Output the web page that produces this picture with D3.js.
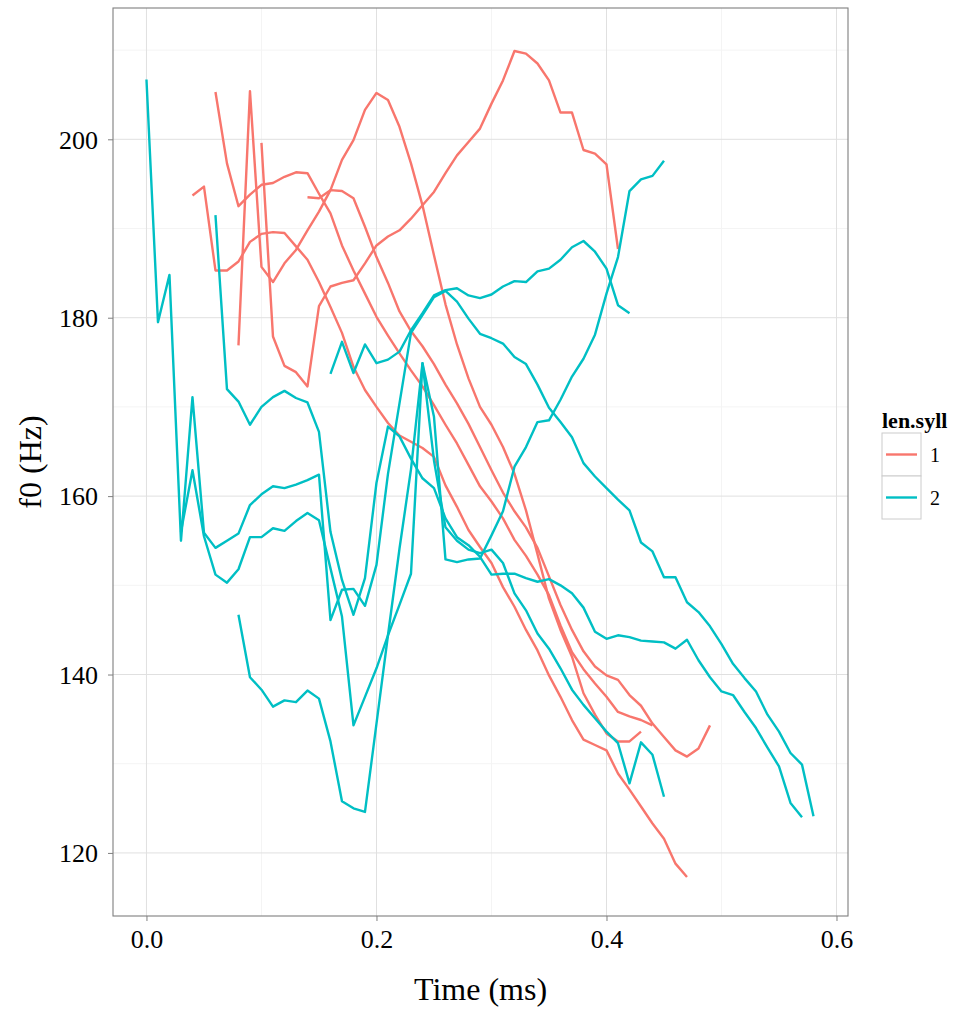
<!DOCTYPE html>
<html>
<head>
<meta charset="utf-8">
<script src="https://cdn.jsdelivr.net/npm/d3@7"></script>
<style>
  body { margin: 0; background: #fff; }
  svg { display: block; font-family: "Liberation Serif", "DejaVu Serif", serif; }
</style>
</head>
<body>
<div id="chart"></div>
<script>
const WIDTH = 955;
const HEIGHT = 1009;
const STEP = 0.01; // sampling step of the contours (s)

// len.syll categories
const syllables = ["1", "2"];
const colors = ["#F8766D", "#00BFC4"];

// f0 contours, len.syll = 1 (start time + one value per 0.01 s)
const r0Start = 0.04;
const r0 = [193.7, 194.7, 185.3, 185.3, 186.3, 188.5, 189.4, 189.6, 189.5, 188.0, 186.5, 184.0, 181.2, 178.3,
    174.5, 171.9, 170.0, 168.2, 166.8, 166.1, 165.4, 164.4, 161.2, 158.8, 156.2, 154.3, 152.5, 149.8, 147.6,
    145.0, 142.7, 139.9, 137.5, 134.9, 132.7, 132.1, 131.5, 128.9, 127.1, 125.2, 123.3, 121.6, 118.8, 117.3];
const r1Start = 0.06;
const r1 = [205.3, 197.3, 192.5, 193.8, 194.9, 195.1, 195.8, 196.3, 196.2, 193.9, 191.7, 188.1, 185.3, 182.7,
    180.1, 178.0, 176.0, 174.1, 172.3, 170.2, 168.0, 165.9, 163.5, 161.1, 159.4, 157.5, 155.1, 153.3, 151.2,
    148.9, 145.5, 142.5, 140.6, 139.0, 137.5, 135.8, 135.3, 134.9, 134.3];
const r2Start = 0.08;
const r2 = [176.9, 205.4, 185.7, 184.0, 186.1, 187.6, 189.8, 191.9, 194.3, 197.7, 199.9, 203.3, 205.2, 204.4,
    201.4, 197.3, 192.6, 187.0, 181.5, 177.0, 173.2, 170.0, 168.0, 165.5, 162.5, 158.4, 153.5, 148.5, 145.0,
    142.0, 137.9, 135.5, 133.4, 132.5, 132.5, 133.6];
const r3Start = 0.10;
const r3 = [199.6, 177.9, 174.6, 173.9, 172.3, 181.3, 183.5, 183.9, 184.2, 186.1, 188.1, 189.1, 189.8, 191.1,
    192.6, 194.1, 196.2, 198.2, 199.7, 201.2, 204.0, 206.6, 209.9, 209.6, 208.5, 206.6, 203.0, 203.0, 198.8,
    198.4, 197.2, 187.7];
const r4Start = 0.14;
const r4 = [193.5, 193.4, 194.3, 194.2, 193.4, 190.2, 186.8, 183.9, 180.7, 178.5, 176.8, 174.8, 172.5, 170.4,
    168.1, 165.5, 162.9, 160.4, 158.3, 156.5, 154.2, 151.0, 147.8, 145.0, 142.6, 140.9, 139.9, 139.4, 137.7,
    136.5, 134.5, 133.0, 131.5, 130.8, 131.7, 134.3];

// f0 contours, len.syll = 2
const t0Start = 0.00;
const t0 = [206.7, 179.5, 184.8, 155.0, 171.1, 155.9, 154.2, 155.0, 155.8, 159.0, 160.2, 161.1, 160.9, 161.3,
    161.8, 162.4, 146.1, 149.5, 149.6, 147.7, 152.3, 162.5, 170.4, 178.3, 180.3, 182.3, 183.0, 181.8, 179.9,
    178.2, 177.7, 177.1, 175.6, 174.8, 172.5, 169.9, 168.3, 166.6, 163.7, 162.2, 160.9, 159.6, 158.4, 154.8,
    153.8, 150.9, 150.9, 148.1, 147.0, 145.4, 143.4, 141.2, 139.6, 138.1, 135.5, 133.6, 131.2, 129.9, 124.1];
const t1Start = 0.03;
const t1 = [156.0, 162.9, 155.5, 151.2, 150.3, 151.8, 155.4, 155.4, 156.4, 156.1, 157.2, 158.1, 157.3, 151.9,
    146.5, 134.3, 137.5, 140.7, 144.4, 147.8, 151.3, 174.9, 168.9, 152.9, 152.6, 152.9, 153.0, 155.6, 158.3,
    163.3, 165.5, 168.3, 168.5, 170.8, 173.4, 175.4, 178.1, 182.7, 186.8, 194.2, 195.5, 195.9, 197.6];
const t2Start = 0.06;
const t2 = [191.5, 172.0, 170.6, 168.0, 170.0, 171.1, 171.8, 171.0, 170.5, 167.2, 156.0, 150.6, 146.7, 150.8,
    161.5, 167.8, 166.7, 164.2, 162.0, 160.9, 157.5, 155.4, 154.5, 153.2, 151.2, 151.3, 151.3, 150.8, 150.4,
    150.7, 150.0, 149.1, 147.5, 144.8, 144.0, 144.4, 144.2, 143.8, 143.7, 143.6, 142.9, 143.9, 141.6, 139.7,
    138.1, 137.7, 135.8, 134.0, 131.8, 129.7, 125.6, 124.0];
const t3Start = 0.08;
const t3 = [146.7, 139.7, 138.3, 136.4, 137.1, 136.9, 138.2, 137.3, 132.5, 125.8, 125.0, 124.6, 134.5, 144.4,
    154.1, 163.0, 174.9, 164.0, 156.5, 155.0, 154.0, 153.6, 154.0, 152.5, 149.1, 147.2, 144.6, 142.9, 140.7,
    138.3, 136.6, 135.1, 133.6, 132.3, 127.8, 132.4, 131.0, 126.3];
const t4Start = 0.16;
const t4 = [173.7, 177.3, 173.8, 177.0, 174.9, 175.3, 176.2, 178.6, 180.5, 182.5, 183.1, 183.3, 182.5, 182.2,
    182.6, 183.5, 184.1, 184.0, 185.2, 185.5, 186.5, 187.9, 188.6, 187.4, 185.5, 181.4, 180.5];

// axis ticks
const xTicks = [0.0, 0.2, 0.4, 0.6];
const xMinor = [0.1, 0.3, 0.5];
const yTicks = [120, 140, 160, 180, 200];
const yMinor = [130, 150, 170, 190, 210];

const contours = [
    { syll: "1", start: r0Start, f0: r0 },
    { syll: "1", start: r1Start, f0: r1 },
    { syll: "1", start: r2Start, f0: r2 },
    { syll: "1", start: r3Start, f0: r3 },
    { syll: "1", start: r4Start, f0: r4 },
    { syll: "2", start: t0Start, f0: t0 },
    { syll: "2", start: t1Start, f0: t1 },
    { syll: "2", start: t2Start, f0: t2 },
    { syll: "2", start: t3Start, f0: t3 },
    { syll: "2", start: t4Start, f0: t4 }
];

const panel = { left: 113, right: 848, top: 8, bottom: 916 };

const svg = d3.select("#chart").append("svg")
    .attr("width", WIDTH)
    .attr("height", HEIGHT);

const x = d3.scaleLinear().domain([-0.0291, 0.61]).range([panel.left, panel.right]);
const y = d3.scaleLinear().domain([112.93, 214.72]).range([panel.bottom, panel.top]);
const color = d3.scaleOrdinal().domain(syllables).range(colors);

// panel background + grid
svg.append("rect")
    .attr("x", panel.left).attr("y", panel.top)
    .attr("width", panel.right - panel.left).attr("height", panel.bottom - panel.top)
    .attr("fill", "white");

const grid = svg.append("g");
grid.selectAll(".xminor").data(xMinor).join("line")
    .attr("x1", d => x(d)).attr("x2", d => x(d))
    .attr("y1", panel.top).attr("y2", panel.bottom)
    .attr("stroke", "#f4f4f4").attr("stroke-width", 1);
grid.selectAll(".yminor").data(yMinor).join("line")
    .attr("y1", d => y(d)).attr("y2", d => y(d))
    .attr("x1", panel.left).attr("x2", panel.right)
    .attr("stroke", "#f4f4f4").attr("stroke-width", 1);
grid.selectAll(".xmajor").data(xTicks).join("line")
    .attr("x1", d => x(d)).attr("x2", d => x(d))
    .attr("y1", panel.top).attr("y2", panel.bottom)
    .attr("stroke", "#e0e0e0").attr("stroke-width", 1);
grid.selectAll(".ymajor").data(yTicks).join("line")
    .attr("y1", d => y(d)).attr("y2", d => y(d))
    .attr("x1", panel.left).attr("x2", panel.right)
    .attr("stroke", "#e0e0e0").attr("stroke-width", 1);

// contours
const line = d3.line()
    .x(d => x(d.t))
    .y(d => y(d.v));

svg.append("g")
    .selectAll("path")
    .data(contours)
    .join("path")
    .attr("d", c => line(c.f0.map((v, i) => ({ t: c.start + i * STEP, v: v }))))
    .attr("fill", "none")
    .attr("stroke", c => color(c.syll))
    .attr("stroke-width", 2.4)
    .attr("stroke-linejoin", "round");

// panel border
svg.append("rect")
    .attr("x", panel.left).attr("y", panel.top)
    .attr("width", panel.right - panel.left).attr("height", panel.bottom - panel.top)
    .attr("fill", "none")
    .attr("stroke", "#7f7f7f").attr("stroke-width", 1.1);

// axes
const xAxis = svg.append("g")
    .attr("transform", `translate(0,${panel.bottom})`)
    .call(d3.axisBottom(x).tickValues(xTicks).tickFormat(d3.format(".1f")).tickSize(5).tickPadding(5));
const yAxis = svg.append("g")
    .attr("transform", `translate(${panel.left},0)`)
    .call(d3.axisLeft(y).tickValues(yTicks).tickSize(5).tickPadding(10));

[xAxis, yAxis].forEach(a => {
    a.select(".domain").remove();
    a.selectAll(".tick line").attr("stroke", "#7f7f7f");
    a.selectAll(".tick text")
        .attr("fill", "black")
        .style("font-size", "26px")
        .style("font-family", "'Liberation Serif', serif");
});
xAxis.selectAll(".tick text").attr("dy", "0.85em");
yAxis.selectAll(".tick text").attr("dy", "0.34em");

// axis titles
svg.append("text")
    .attr("x", (panel.left + panel.right) / 2)
    .attr("y", 1000)
    .attr("text-anchor", "middle")
    .style("font-size", "32px")
    .text("Time (ms)");

svg.append("text")
    .attr("transform", `translate(41,${(panel.top + panel.bottom) / 2}) rotate(-90)`)
    .attr("text-anchor", "middle")
    .style("font-size", "32px")
    .text("f0 (Hz)");

// legend
const legend = svg.append("g").attr("transform", "translate(882,412)");
legend.append("text")
    .attr("x", 0).attr("y", 16)
    .style("font-size", "22px")
    .style("font-weight", "bold")
    .text("len.syll");

const keys = legend.selectAll(".key")
    .data(syllables)
    .join("g")
    .attr("transform", (d, i) => `translate(0,${21 + i * 43})`);
keys.append("rect")
    .attr("width", 39).attr("height", 43)
    .attr("fill", "white")
    .attr("stroke", "#cccccc").attr("stroke-width", 1);
keys.append("line")
    .attr("x1", 4).attr("x2", 35)
    .attr("y1", 21.5).attr("y2", 21.5)
    .attr("stroke", d => color(d))
    .attr("stroke-width", 2.4);
keys.append("text")
    .attr("x", 48).attr("y", 29)
    .style("font-size", "20px")
    .text(d => d);
</script>
</body>
</html>
